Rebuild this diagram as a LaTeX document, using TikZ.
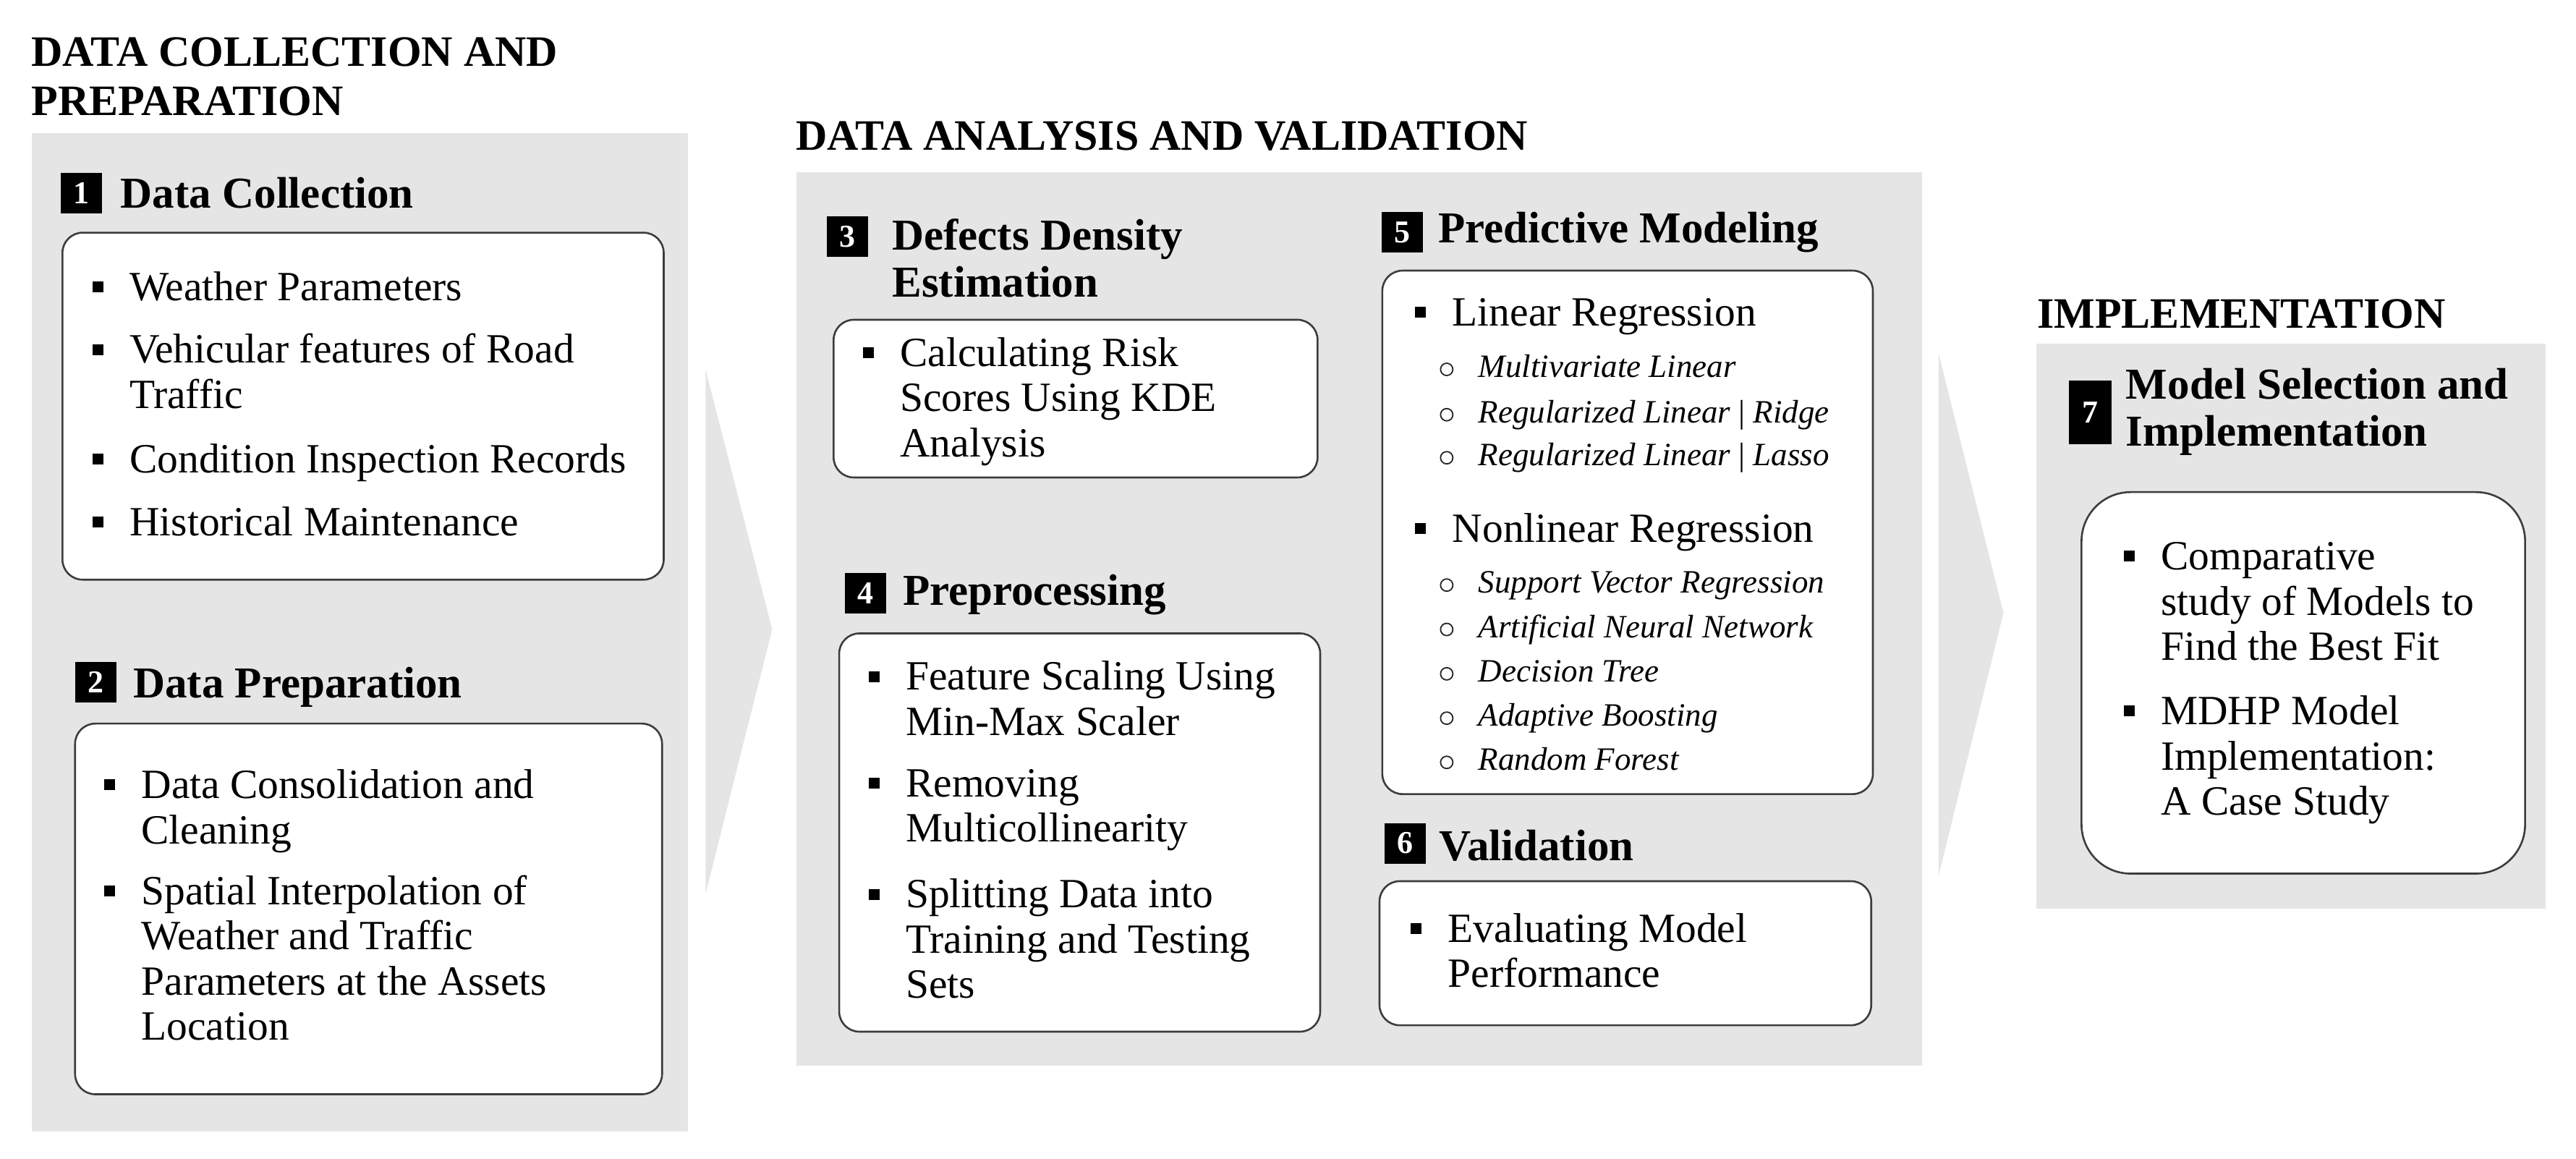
\documentclass[tikz,border=0pt]{standalone}
\usepackage{fontspec}
\setmainfont{Liberation Serif}
\usetikzlibrary{calc}
\definecolor{panelgray}{RGB}{229,229,229}
\definecolor{boxline}{RGB}{60,60,60}
\newcommand{\ml}[1]{\begin{tabular}[t]{@{}l@{}}#1\end{tabular}}
\newcommand{\bitem}[4]{\node[itemtext] (#1) at (#2,#3) {\ml{#4}};
  \node[bul] (#1b) at ($(#1.base west)+(-19.3,-8.3)$) {};}
\newcommand{\sitem}[4]{\node[subtext] (#1) at (#2,#3) {#4};
  \node[subbul] (#1b) at ($(#1.base west)+(-19.2,-4.9)$) {};}
\begin{document}
\begin{tikzpicture}[x=2.2711pt,y=-2.2711pt,
  title/.style={font=\fontsize{60}{68}\selectfont\bfseries, anchor=base west, inner sep=0pt},
  head/.style={font=\fontsize{61}{65}\selectfont\bfseries, anchor=base west, inner sep=0pt},
  itemtext/.style={font=\fontsize{57.5}{62.5}\selectfont, anchor=base west, inner sep=0pt},
  subtext/.style={font=\fontsize{45}{61}\selectfont\itshape, anchor=base west, inner sep=0pt},
  itembox/.style={draw=boxline, line width=2.6pt, rounded corners=28pt, fill=white},
  numbox/.style={fill=black, text=white, font=\fontsize{44}{44}\selectfont\bfseries, minimum width=57pt, minimum height=56pt, inner sep=0pt},
  bul/.style={fill=black, minimum size=15pt, inner sep=0pt},
  subbul/.style={draw=black!85, circle, line width=1.8pt, minimum size=17pt, inner sep=0pt},
  panel/.style={fill=panelgray}]
\useasboundingbox (0,0) rectangle (1568,705);

% panels and chevrons
\path[panel] (19.2,81) rectangle (418.7,688.6);
\path[panel] (484.6,104.9) rectangle (1170,648.7);
\path[panel] (1239.5,209) rectangle (1549.5,553);
\path[panel] (429.5,225) -- (470,383) -- (429.5,544) -- cycle;
\path[panel] (1180,215) -- (1219.5,373) -- (1180,533) -- cycle;

% section titles
\node[title] (t1) at (19,40.3) {\ml{DATA COLLECTION AND\\PREPARATION}};
\node[title] (t2) at (484.5,91.5) {DATA ANALYSIS AND VALIDATION};
\node[title] (t3) at (1240,199.5) {IMPLEMENTATION};

% white boxes
\draw[itembox] (38,141.6) rectangle (404,352.8);
\draw[itembox] (45.7,440.4) rectangle (403,666);
\draw[itembox] (507.4,194.6) rectangle (802,290.6);
\draw[itembox] (510.8,385.5) rectangle (803.6,627.9);
\draw[itembox] (841.4,164.7) rectangle (1140,483.3);
\draw[itembox] (839.7,536.3) rectangle (1139,624);
\draw[itembox, rounded corners=68pt] (1267,299.5) rectangle (1537,531.7);

% number boxes
\node[numbox] (n1) at (49.7,117.5) {1};
\node[numbox] (n2) at (58.4,415.3) {2};
\node[numbox] (n3) at (515.8,144.1) {3};
\node[numbox] (n4) at (526.8,360.9) {4};
\node[numbox] (n5) at (853.7,141.3) {5};
\node[numbox] (n6) at (855.5,513.2) {6};
\node[numbox, minimum width=59pt, minimum height=88pt] (n7) at (1272.4,250.9) {7};

% headings
\node[head] (h1) at (73.4,126.7) {Data Collection};
\node[head] (h2) at (81,424.6) {Data Preparation};
\node[head] (h3) at (543,152) {\ml{Defects Density\\Estimation}};
\node[head] (h4) at (549.5,368.4) {Preprocessing};
\node[head] (h5) at (875.5,147.8) {Predictive Modeling};
\node[head] (h6) at (876,523.8) {Validation};
\node[head] (h7) at (1294,243) {\ml{Model Selection and\\Implementation}};

% box 1
\bitem{i1a}{78.8}{183}{Weather Parameters}
\bitem{i1b}{78.8}{221}{Vehicular features of Road\\Traffic}
\bitem{i1c}{78.8}{287.9}{Condition Inspection Records}
\bitem{i1d}{78.8}{325.9}{Historical Maintenance}
% box 2
\bitem{i2a}{86}{485.9}{Data Consolidation and\\Cleaning}
\bitem{i2b}{86}{550.5}{Spatial Interpolation of\\Weather and Traffic\\Parameters at the Assets\\Location}
% box 3
\bitem{i3a}{547.8}{223}{Calculating Risk\\Scores Using KDE\\Analysis}
% box 4
\bitem{i4a}{551.3}{420}{Feature Scaling Using\\Min-Max Scaler}
\bitem{i4b}{551.3}{485}{Removing\\Multicollinearity}
\bitem{i4c}{551.3}{552.6}{Splitting Data into\\Training and Testing\\Sets}
% box 5
\bitem{i5a}{884}{198.4}{Linear Regression}
\sitem{s5a}{899.8}{229.7}{Multivariate Linear}
\sitem{s5b}{899.8}{257.3}{Regularized Linear {\upshape|} Ridge}
\sitem{s5c}{899.8}{283.5}{Regularized Linear {\upshape|} Lasso}
\bitem{i5b}{884}{329.8}{Nonlinear Regression}
\sitem{s5d}{899.8}{361}{Support Vector Regression}
\sitem{s5e}{899.8}{388}{Artificial Neural Network}
\sitem{s5f}{899.8}{415}{Decision Tree}
\sitem{s5g}{899.8}{442}{Adaptive Boosting}
\sitem{s5h}{899.8}{468.9}{Random Forest}
% box 6
\bitem{i6a}{881.3}{573.3}{Evaluating Model\\Performance}
% box 7
\bitem{i7a}{1315.3}{346.8}{Comparative\\study of Models to\\Find the Best Fit}
\bitem{i7b}{1315.3}{441}{MDHP Model\\Implementation:\\A Case Study}
\end{tikzpicture}
\end{document}
